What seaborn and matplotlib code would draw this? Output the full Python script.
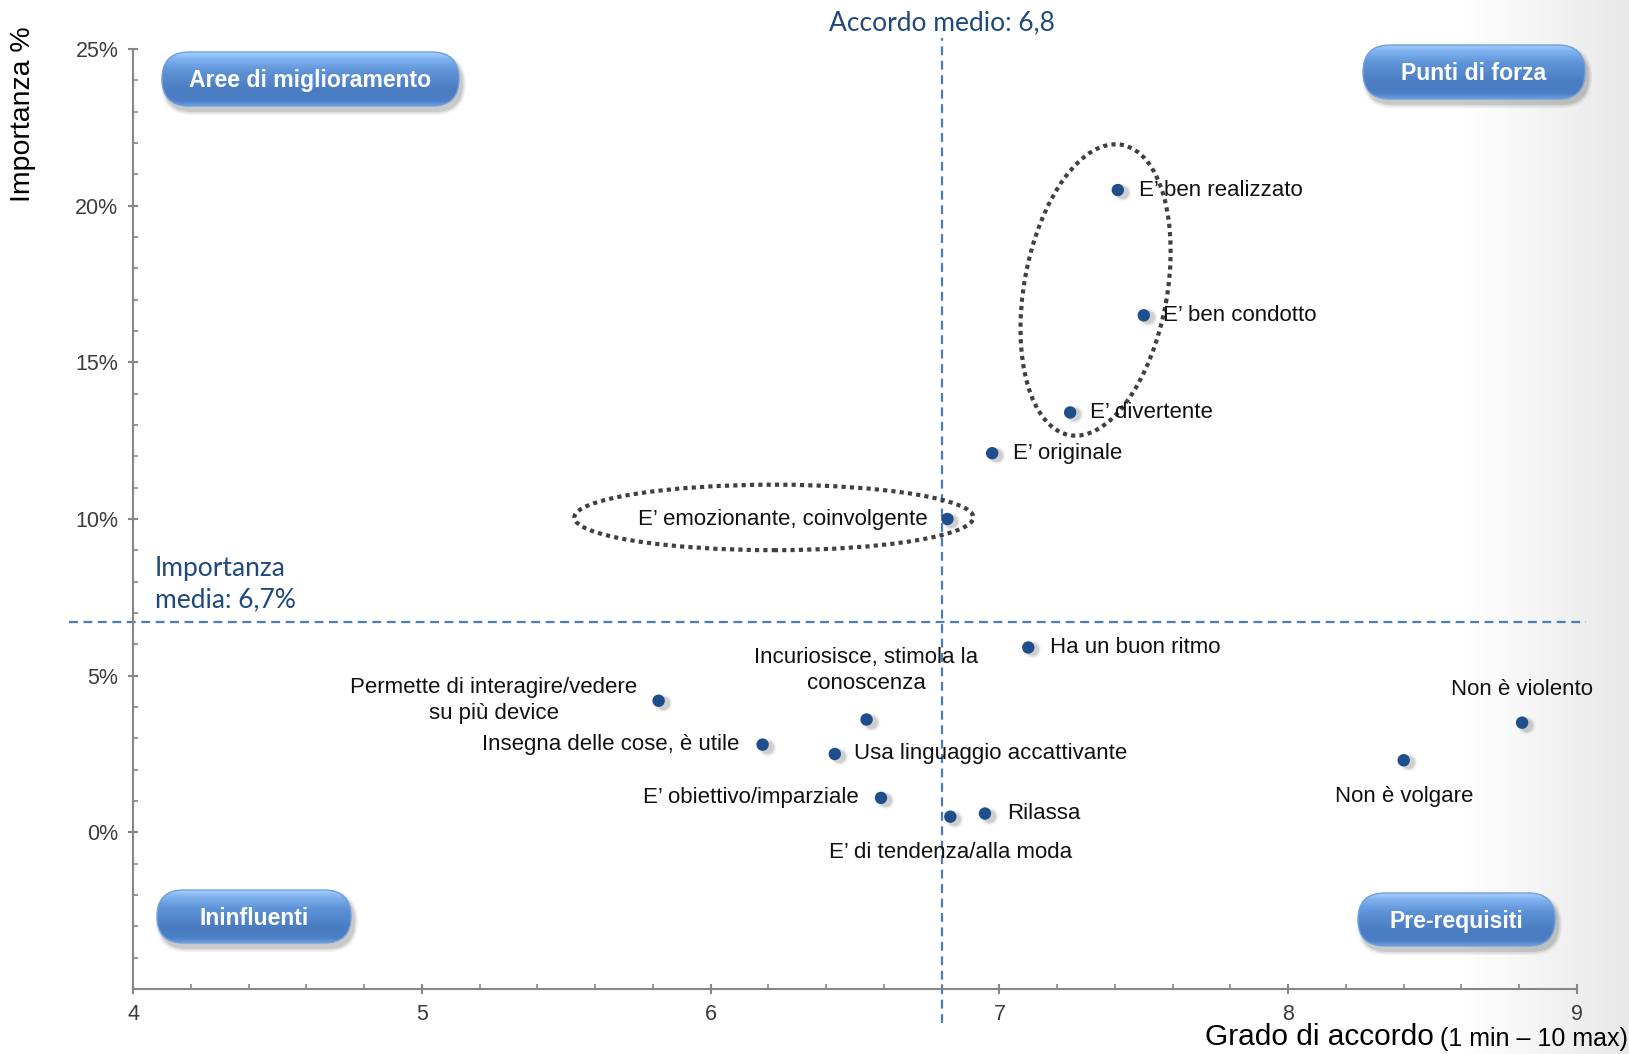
import numpy as np
import pandas as pd
import seaborn as sns
import matplotlib
matplotlib.use("Agg")
import matplotlib.pyplot as plt
import matplotlib.transforms as mtransforms
from matplotlib.patches import Ellipse, FancyBboxPatch
from matplotlib.colors import LinearSegmentedColormap
from matplotlib.ticker import MultipleLocator, FixedLocator

# Dati: grado di accordo (1-10) e importanza %
attributi = ["E’ ben realizzato", "E’ ben condotto", "E’ divertente", "E’ originale",
             "E’ emozionante, coinvolgente", "Ha un buon ritmo",
             "Incuriosisce, stimola la\nconoscenza", "Permette di interagire/vedere\nsu più device",
             "Insegna delle cose, è utile", "Usa linguaggio accattivante",
             "E’ obiettivo/imparziale", "E’ di tendenza/alla moda", "Rilassa",
             "Non è violento", "Non è volgare"]
accordo = [7.41, 7.50, 7.245, 6.975, 6.82, 7.10, 6.54, 5.82, 6.18, 6.43, 6.59, 6.83, 6.95, 8.81, 8.40]
importanza = [20.5, 16.5, 13.4, 12.1, 10.0, 5.9, 3.6, 4.2, 2.8, 2.5, 1.1, 0.5, 0.6, 3.5, 2.3]

accordo_medio = 6.8
importanza_media = 6.7

quadranti = ["Aree di miglioramento", "Punti di forza", "Ininfluenti", "Pre-requisiti"]
x_ticks = [4, 5, 6, 7, 8, 9]
y_ticks = [0, 5, 10, 15, 20, 25]

df = pd.DataFrame({"attributo": attributi, "accordo": accordo, "importanza": importanza})

# posizione etichette (offset in pixel, allineamento)
label_pos = [(21, 0, "left"), (19, 0, "left"), (20, 0, "left"), (21, 0, "left"),
             (-20, 0, "right"), (22, 0, "left"), (0, 49, "center"), (-21, 0, "right"),
             (-23, 0, "right"), (19, 0, "left"), (-22, 0, "right"), (0, -36, "center"),
             (22, 0, "left"), (0, 33, "center"), (0, -36, "center")]

# box dei quadranti in pixel (x0, y0, x1, y1) dall'alto
box_pos = [(162, 52, 459, 106), (1363, 45, 1585, 99), (157, 890, 351, 943), (1358, 893, 1555, 946)]

W, H = 1629, 1054
sns.set_theme(style="white")
plt.rcParams["font.family"] = ["Liberation Sans", "DejaVu Sans"]
BLUE_TXT = "#1f497d"
LINE_BLUE = "#4a7ebb"

fig = plt.figure(figsize=(W / 100, H / 100), dpi=100)
fig.patch.set_facecolor("white")

# sfondo sfumato a destra
bg = fig.add_axes([0, 0, 1, 1], zorder=-10)
bg_cmap = LinearSegmentedColormap.from_list("bg", [(0, "white"), (0.9, "white"), (1, "#e8e8e8")])
bg.imshow(np.linspace(0, 1, 512).reshape(1, -1), cmap=bg_cmap, aspect="auto", extent=[0, 1, 0, 1])
bg.set_axis_off()

ax = fig.add_axes([133 / W, 1 - 989 / H, (1577 - 133) / W, (989 - 49) / H])
ax.set_facecolor("none")

# ombra dei punti
for s, a in [(170, 0.06), (120, 0.10), (85, 0.15)]:
    ax.scatter(df["accordo"], df["importanza"], s=s, color="#555555", alpha=a, lw=0,
               transform=mtransforms.offset_copy(ax.transData, fig, x=4, y=-2, units="dots"), zorder=3)
sns.scatterplot(data=df, x="accordo", y="importanza", s=80, color="#1f4e8c", edgecolor="none",
                zorder=5, ax=ax)

for (txt, x, y), (dx, dy, ha) in zip(zip(attributi, accordo, importanza), label_pos):
    ax.annotate(txt, (x, y), xytext=(dx, dy), textcoords="offset pixels", ha=ha, va="center",
                multialignment="center", fontsize=16, color="#111111",
                linespacing=1.3, zorder=6)

ax.set_xlim(4, 9)
ax.set_ylim(-5, 25)
ax.xaxis.set_major_locator(FixedLocator(x_ticks))
ax.xaxis.set_minor_locator(MultipleLocator(0.2))
ax.yaxis.set_major_locator(FixedLocator(y_ticks))
ax.yaxis.set_minor_locator(MultipleLocator(1))
ax.set_xticklabels([str(t) for t in x_ticks])
ax.set_yticklabels([f"{t}%" for t in y_ticks])
ax.set_xlabel("")
ax.set_ylabel("")
for side in ["top", "right"]:
    ax.spines[side].set_visible(False)
for side in ["left", "bottom"]:
    ax.spines[side].set_color("#868686")
    ax.spines[side].set_linewidth(1.5)
ax.tick_params(which="major", direction="inout", length=7, width=1.5, color="#868686",
               labelsize=15.5, labelcolor="#3c3c3c", pad=7, left=True, bottom=True)
ax.tick_params(which="minor", direction="in", length=3.5, width=1.2, color="#868686",
               left=True, bottom=True)

# linee medie
ax.plot([accordo_medio, accordo_medio], [-6.1, 25.35], ls="--", dashes=(4, 2.5), lw=1.6,
        color=LINE_BLUE, clip_on=False, zorder=2)
ax.plot([3.78, 9.03], [importanza_media, importanza_media], ls="--", dashes=(4, 2.5), lw=1.6,
        color=LINE_BLUE, clip_on=False, zorder=2)
ax.annotate(f"Accordo medio: {accordo_medio:.1f}".replace(".", ","), (accordo_medio, 25),
            xytext=(0, 26), textcoords="offset pixels", ha="center", va="center",
            fontsize=19, family=["Lato", "DejaVu Sans"], color=BLUE_TXT, annotation_clip=False)
ax.annotate("Importanza\nmedia: " + f"{importanza_media:.1f}".replace(".", ",") + "%",
            (4, importanza_media), xytext=(22, 10), textcoords="offset pixels", ha="left",
            va="bottom", fontsize=19, family=["Lato", "DejaVu Sans"], color=BLUE_TXT,
            linespacing=1.3, annotation_clip=False)

# ellissi tratteggiate
ellissi = [((7.333, 17.31), 295, 143, 79.8), ((6.219, 10.05), 399, 65.5, 0)]
for (cx, cy), ew, eh, ang in ellissi:
    tr = mtransforms.Affine2D() + mtransforms.ScaledTranslation(cx, cy, ax.transData)
    ax.add_patch(Ellipse((0, 0), ew, eh, angle=ang, transform=tr, fill=False, ec="#404040",
                         lw=3.0, ls=(0, (1, 1)), zorder=4, clip_on=False))

# etichette assi
fig.text(23 / W, 1 - 114 / H, "Importanza %", rotation=90, ha="center", va="center",
         fontsize=20.5, color="black")
t2 = fig.text(0.9995, 1 - 1046 / H, "(1 min – 10 max)", ha="right", va="baseline",
              fontsize=18, color="black")
ax.annotate("Grado di accordo", xy=(0, 0), xycoords=t2, xytext=(-6, 0), textcoords="offset pixels",
            ha="right", va="bottom", fontsize=21.5, color="black", annotation_clip=False)

# pulsanti dei quadranti
btn_cmap = LinearSegmentedColormap.from_list(
    "btn", [(0, "#a8d2fb"), (0.12, "#7fb2ef"), (0.35, "#5e93d7"), (0.7, "#4b7cc1"),
            (0.9, "#4c7fc5"), (1, "#6a9fe2")])
grad = np.linspace(0, 1, 256).reshape(-1, 1)
ident = mtransforms.IdentityTransform()
for (x0, y0, x1, y1), testo in zip(box_pos, quadranti):
    w, h = x1 - x0, y1 - y0
    yb = H - y1
    for k, a in [(8, 0.05), (5, 0.07), (2, 0.10)]:
        fig.add_artist(FancyBboxPatch((x0 + 3 - k / 2, yb - 5 - k / 2), w + k, h + k,
                                      boxstyle=f"round,pad=0,rounding_size={(h + k) / 2}",
                                      transform=ident, fc="black", ec="none", alpha=a, zorder=3))
    bax = fig.add_axes([x0 / W, yb / H, w / W, h / H], zorder=4)
    bax.set_axis_off()
    im = bax.imshow(grad, extent=[0, 1, 0, 1], aspect="auto", cmap=btn_cmap)
    clip = FancyBboxPatch((x0, yb), w, h, boxstyle=f"round,pad=0,rounding_size={h / 2}",
                          transform=ident, fc="none", ec="none")
    im.set_clip_path(clip)
    fig.add_artist(FancyBboxPatch((x0, yb), w, h, boxstyle=f"round,pad=0,rounding_size={h / 2}",
                                  transform=ident, fc="none", ec="#6f9fdc", lw=1.0, zorder=5))
    fig.text((x0 + w / 2) / W, (yb + h / 2 - 2) / H, testo, ha="center", va="center", color="white",
             fontweight="bold", fontsize=16.6, zorder=6)

fig.savefig("out.png", dpi=100)
plt.close(fig)
